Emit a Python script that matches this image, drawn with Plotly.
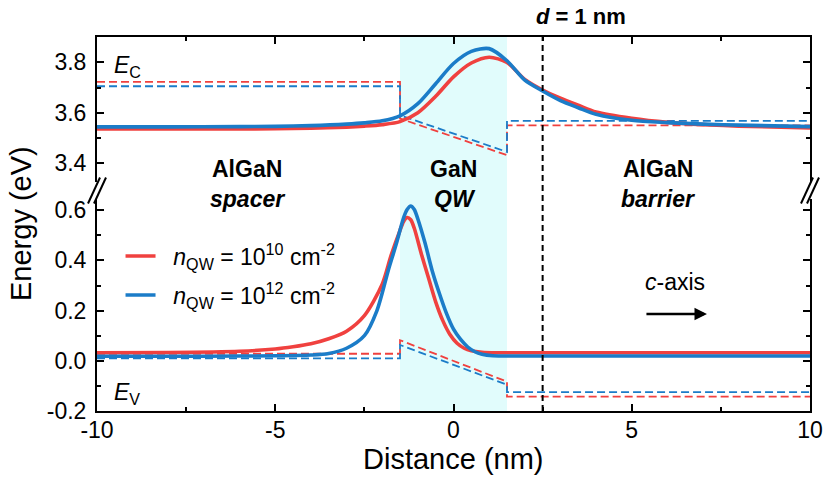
import plotly.graph_objects as go

# ---------------- data ----------------
ec_x = [-10, -8, -6, -5, -4, -3, -2.5, -2, -1.5, -1, -0.5, 0, 0.5, 1, 1.5, 2, 2.5, 3, 3.5, 4, 5, 6, 7, 8, 10]
ec_red = [3.536, 3.536, 3.536, 3.537, 3.539, 3.543, 3.547, 3.553, 3.565, 3.600, 3.665, 3.742, 3.797, 3.820,
          3.799, 3.732, 3.690, 3.658, 3.630, 3.603, 3.578, 3.562, 3.553, 3.547, 3.540]
ec_blue = [3.544, 3.544, 3.545, 3.546, 3.549, 3.555, 3.560, 3.568, 3.588, 3.636, 3.715, 3.795, 3.843, 3.854,
           3.806, 3.729, 3.686, 3.648, 3.620, 3.594, 3.570, 3.561, 3.555, 3.551, 3.545]

ev_red_x = [-10, -8, -6, -5, -4.5, -4, -3.5, -3, -2.5, -2, -1.75, -1.5, -1.4, -1.3, -1.2, -1.1, -0.9, -0.7,
            -0.5, -0.3, -0.1, 0.1, 0.3, 0.5, 0.8, 1.2, 2, 5, 10]
ev_red = [0.032, 0.033, 0.038, 0.047, 0.056, 0.068, 0.088, 0.118, 0.180, 0.305, 0.420, 0.520, 0.555, 0.571,
          0.562, 0.528, 0.425, 0.330, 0.235, 0.160, 0.105, 0.070, 0.050, 0.040, 0.034, 0.032, 0.032, 0.032, 0.032]

ev_blue_x = [-10, -8, -6, -5, -4, -3.5, -3, -2.5, -2.15, -1.83, -1.6, -1.4, -1.3, -1.2, -1.1, -1.0, -0.8,
             -0.6, -0.4, -0.2, 0, 0.2, 0.4, 0.6, 0.8, 1.1, 2, 5, 10]
ev_blue = [0.018, 0.018, 0.019, 0.020, 0.023, 0.029, 0.050, 0.100, 0.199, 0.360, 0.468, 0.570, 0.603, 0.617,
           0.603, 0.565, 0.470, 0.360, 0.270, 0.190, 0.126, 0.085, 0.055, 0.036, 0.026, 0.020, 0.019, 0.019, 0.019]

band_x = [-10, -1.5, -1.5, 1.5, 1.5, 10]
ec_red_flat = [3.722, 3.722, 3.577, 3.432, 3.550, 3.550]
ec_blue_flat = [3.705, 3.705, 3.590, 3.445, 3.568, 3.568]
ev_red_flat = [0.028, 0.028, 0.082, -0.083, -0.143, -0.143]
ev_blue_flat = [0.010, 0.010, 0.063, -0.095, -0.125, -0.125]

legend_labels = ["&nbsp;&nbsp;<i>n</i><sub>QW</sub> = 10<sup>10</sup> cm<sup>-2</sup>",
                 "&nbsp;&nbsp;<i>n</i><sub>QW</sub> = 10<sup>12</sup> cm<sup>-2</sup>"]

x_tickvals = [-10, -5, 0, 5, 10]
x_ticktext = ["-10", "-5", "0", "5", "10"]
ylow_tickvals = [-0.2, 0.0, 0.2, 0.4, 0.6]
ylow_ticktext = ["-0.2", "0.0", "0.2", "0.4", "0.6"]
yup_tickvals = [3.4, 3.6, 3.8]
yup_ticktext = ["3.4", "3.6", "3.8"]

qw_left, qw_right = -1.5, 1.5
d_line_x = 2.5

# ---------------- styling ----------------
RED = "#F0413F"
BLUE = "#1B7CC8"
FONT = "Liberation Sans, Arial, sans-serif"
FS = 23
FS_TITLE = 29
SOLID_W = 3.6
DASH_W = 1.8
DASH = "8px,4px"

fig = go.Figure()

# upper panel (conduction band)
fig.add_trace(go.Scatter(x=band_x, y=ec_red_flat, xaxis="x2", yaxis="y2", mode="lines",
                         line=dict(color=RED, width=DASH_W, dash=DASH), showlegend=False))
fig.add_trace(go.Scatter(x=band_x, y=ec_blue_flat, xaxis="x2", yaxis="y2", mode="lines",
                         line=dict(color=BLUE, width=DASH_W, dash=DASH), showlegend=False))
fig.add_trace(go.Scatter(x=ec_x, y=ec_red, xaxis="x2", yaxis="y2", mode="lines",
                         line=dict(color=RED, width=SOLID_W, shape="spline", smoothing=0.8), showlegend=False))
fig.add_trace(go.Scatter(x=ec_x, y=ec_blue, xaxis="x2", yaxis="y2", mode="lines",
                         line=dict(color=BLUE, width=SOLID_W, shape="spline", smoothing=0.8), showlegend=False))

# lower panel (valence band)
fig.add_trace(go.Scatter(x=band_x, y=ev_red_flat, xaxis="x", yaxis="y", mode="lines",
                         line=dict(color=RED, width=DASH_W, dash=DASH), showlegend=False))
fig.add_trace(go.Scatter(x=band_x, y=ev_blue_flat, xaxis="x", yaxis="y", mode="lines",
                         line=dict(color=BLUE, width=DASH_W, dash=DASH), showlegend=False))
fig.add_trace(go.Scatter(x=ev_red_x, y=ev_red, xaxis="x", yaxis="y", mode="lines", name=legend_labels[0],
                         line=dict(color=RED, width=SOLID_W, shape="spline", smoothing=0.8),
                         showlegend=True, legend="legend"))
fig.add_trace(go.Scatter(x=ev_blue_x, y=ev_blue, xaxis="x", yaxis="y", mode="lines", name=legend_labels[1],
                         line=dict(color=BLUE, width=SOLID_W, shape="spline", smoothing=0.8),
                         showlegend=True, legend="legend2"))

# geometry (pixels)
W, H = 827, 479
L, R, T, B = 97, 17, 37, 68
plot_h = H - T - B
bottom_px = H - B
up_bot_px = 182
low_top_px = 199


def py2paper(py):
    return (bottom_px - py) / plot_h


low_dom = [0, py2paper(low_top_px)]
up_dom = [py2paper(up_bot_px), 1]
low_range = [-0.2, -0.2 + (bottom_px - low_top_px) / 251.0]
up_range = [3.9 - (up_bot_px - T) / 252.5, 3.9]

axis_common = dict(showgrid=False, zeroline=False, showline=True, linecolor="black", linewidth=2,
                   ticks="inside", ticklen=7, tickwidth=2, tickcolor="black", automargin=False,
                   tickfont=dict(family=FONT, size=FS, color="black"))

fig.update_layout(
    width=W, height=H,
    margin=dict(l=L, r=R, t=T, b=B, autoexpand=False),
    paper_bgcolor="white", plot_bgcolor="rgba(0,0,0,0)",
    font=dict(family=FONT, size=FS, color="black"),
    xaxis=dict(**axis_common, anchor="y", range=[-10, 10], tickvals=x_tickvals, ticktext=x_ticktext,
               ticklabelstandoff=-3,
               minor=dict(dtick=2.5, tick0=0, ticks="inside", ticklen=4, tickwidth=2, tickcolor="black")),
    xaxis2=dict(**axis_common, anchor="y2", side="top", matches="x", range=[-10, 10],
                tickvals=x_tickvals, showticklabels=False,
                minor=dict(dtick=2.5, tick0=0, ticks="inside", ticklen=4, tickwidth=2, tickcolor="black")),
    yaxis=dict(**axis_common, anchor="x", domain=low_dom, range=low_range, mirror="ticks",
               tickvals=ylow_tickvals, ticktext=ylow_ticktext, ticklabelstandoff=4,
               minor=dict(dtick=0.1, tick0=0, ticks="inside", ticklen=4, tickwidth=2, tickcolor="black")),
    yaxis2=dict(**axis_common, anchor="x2", domain=up_dom, range=up_range, mirror="ticks",
                tickvals=yup_tickvals, ticktext=yup_ticktext, ticklabelstandoff=4,
                minor=dict(dtick=0.1, tick0=3.3, ticks="inside", ticklen=4, tickwidth=2, tickcolor="black")),
    legend=dict(x=0.033, y=py2paper(256), xanchor="left", yanchor="middle", bgcolor="rgba(0,0,0,0)",
                font=dict(family=FONT, size=FS), borderwidth=0),
    legend2=dict(x=0.033, y=py2paper(295), xanchor="left", yanchor="middle", bgcolor="rgba(0,0,0,0)",
                 font=dict(family=FONT, size=FS), borderwidth=0),
)

shapes = []
# quantum-well shading
shapes.append(dict(type="rect", xref="x", yref="paper", x0=qw_left, x1=qw_right, y0=0, y1=1,
                   fillcolor="#E1FCFC", line=dict(width=0), layer="below"))
# d = 1 nm dashed line
shapes.append(dict(type="line", xref="x", yref="paper", x0=d_line_x, x1=d_line_x, y0=0, y1=1,
                   line=dict(color="black", width=2, dash="6px,4px"), layer="above"))
# axis-break marks
brk = py2paper((up_bot_px + low_top_px) / 2)
for xa in (0, 1):
    for off in (-3, 3):
        shapes.append(dict(type="line", xref="paper", yref="paper", xsizemode="pixel", ysizemode="pixel",
                           xanchor=xa, yanchor=brk, x0=off - 6, x1=off + 6, y0=-13, y1=13,
                           line=dict(color="black", width=2)))
fig.update_layout(shapes=shapes)

ann = []


def txt(text, x, py, xref="x", size=FS, xanchor="center"):
    ann.append(dict(text=text, x=x, y=py2paper(py), xref=xref, yref="paper", showarrow=False,
                    xanchor=xanchor, yanchor="middle", font=dict(family=FONT, size=size, color="black")))


txt("<i>E</i><sub>C</sub>", -9.58, 66, xanchor="left")
txt("<i>E</i><sub>V</sub>", -9.58, 393, xanchor="left")
txt("<b>AlGaN</b>", -5.79, 169)
txt("<b><i>spacer</i></b>", -5.79, 199)
txt("<b>GaN</b>", 0.0, 169)
txt("<b><i>QW</i></b>", 0.05, 199)
txt("<b>AlGaN</b>", 5.75, 169)
txt("<b><i>barrier</i></b>", 5.75, 199)
txt("<b><i>d</i> = 1 nm</b>", 3.58, 16, size=22)
txt("<i>c</i>-axis", 6.21, 282)
txt("Distance (nm)", 0.0, 459, size=FS_TITLE)

ann.append(dict(text="Energy (eV)", x=-0.0, y=0.5, xref="paper", yref="paper", xshift=-76,
                textangle=-90, showarrow=False, xanchor="center", yanchor="middle",
                font=dict(family=FONT, size=FS_TITLE, color="black")))
# c-axis arrow
ann.append(dict(x=7.11, y=0.186, ax=5.37, ay=0.186, xref="x", yref="y", axref="x", ayref="y",
                text="", showarrow=True, arrowhead=2, arrowsize=1, arrowwidth=2.5, arrowcolor="black"))
fig.update_layout(annotations=ann)

fig.write_html("out.html")
